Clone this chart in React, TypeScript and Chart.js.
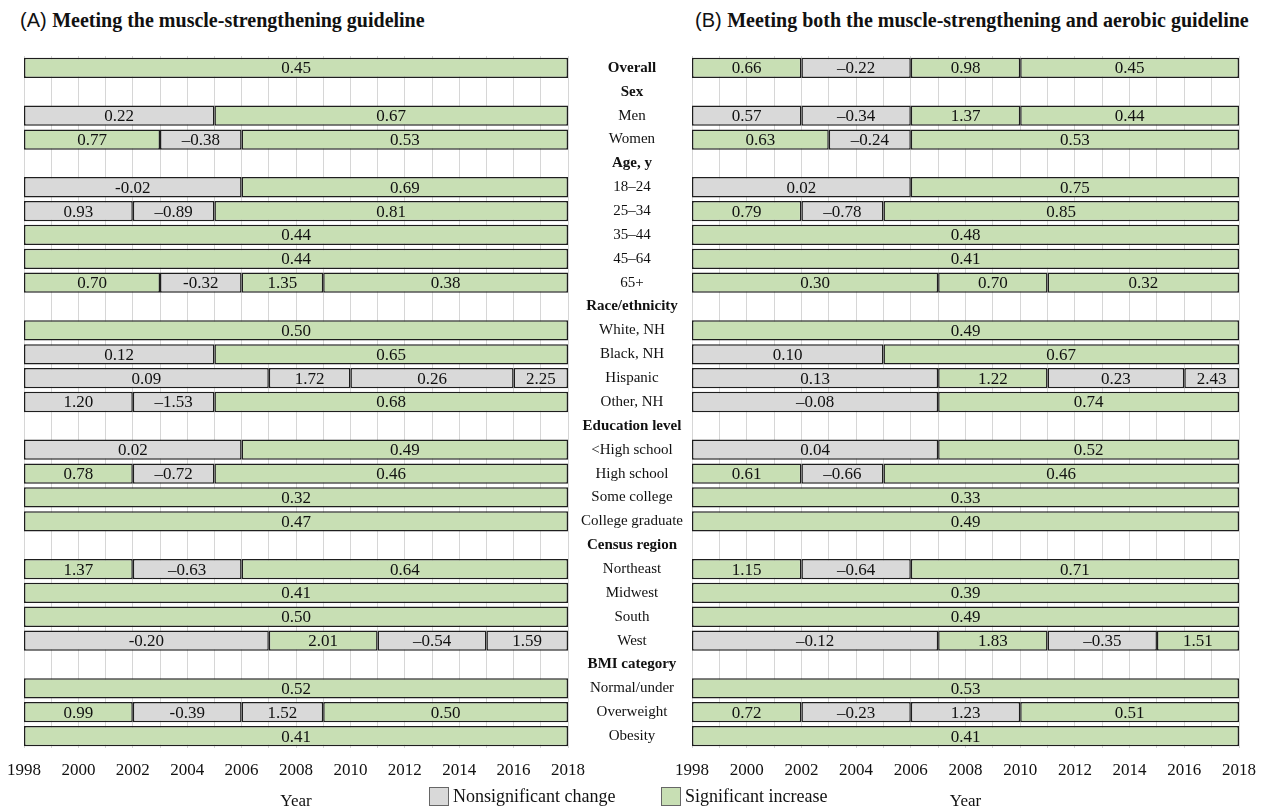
import React, { useEffect, useRef } from "react";
import { Chart, registerables } from "chart.js";

Chart.register(...registerables);

// ---------- data ----------
const rowLabels = [
  "Overall", "Sex", "Men", "Women", "Age, y", "18–24", "25–34", "35–44", "45–64", "65+",
  "Race/ethnicity", "White, NH", "Black, NH", "Hispanic", "Other, NH",
  "Education level", "<High school", "High school", "Some college", "College graduate",
  "Census region", "Northeast", "Midwest", "South", "West",
  "BMI category", "Normal/under", "Overweight", "Obesity",
];
const boldLabels = ["Overall", "Sex", "Age, y", "Race/ethnicity", "Education level", "Census region", "BMI category"];

const yearMin = 1998;
const yearMax = 2018;

// Panel A: joinpoint years per row, APC labels, significance (1 = significant increase)
const breaksA: number[][] = [
  [1998, 2018], [], [1998, 2005, 2018], [1998, 2003, 2006, 2018], [],
  [1998, 2006, 2018], [1998, 2002, 2005, 2018], [1998, 2018], [1998, 2018], [1998, 2003, 2006, 2009, 2018], [],
  [1998, 2018], [1998, 2005, 2018], [1998, 2007, 2010, 2016, 2018], [1998, 2002, 2005, 2018], [],
  [1998, 2006, 2018], [1998, 2002, 2005, 2018], [1998, 2018], [1998, 2018], [],
  [1998, 2002, 2006, 2018], [1998, 2018], [1998, 2018], [1998, 2007, 2011, 2015, 2018], [],
  [1998, 2018], [1998, 2002, 2006, 2009, 2018], [1998, 2018],
];
const apcA: string[][] = [
  ["0.45"], [], ["0.22", "0.67"], ["0.77", "–0.38", "0.53"], [],
  ["-0.02", "0.69"], ["0.93", "–0.89", "0.81"], ["0.44"], ["0.44"], ["0.70", "-0.32", "1.35", "0.38"], [],
  ["0.50"], ["0.12", "0.65"], ["0.09", "1.72", "0.26", "2.25"], ["1.20", "–1.53", "0.68"], [],
  ["0.02", "0.49"], ["0.78", "–0.72", "0.46"], ["0.32"], ["0.47"], [],
  ["1.37", "–0.63", "0.64"], ["0.41"], ["0.50"], ["-0.20", "2.01", "–0.54", "1.59"], [],
  ["0.52"], ["0.99", "-0.39", "1.52", "0.50"], ["0.41"],
];
const sigA: number[][] = [
  [1], [], [0, 1], [1, 0, 1], [],
  [0, 1], [0, 0, 1], [1], [1], [1, 0, 1, 1], [],
  [1], [0, 1], [0, 0, 0, 0], [0, 0, 1], [],
  [0, 1], [1, 0, 1], [1], [1], [],
  [1, 0, 1], [1], [1], [0, 1, 0, 0], [],
  [1], [1, 0, 0, 1], [1],
];

// Panel B
const breaksB: number[][] = [
  [1998, 2002, 2006, 2010, 2018], [], [1998, 2002, 2006, 2010, 2018], [1998, 2003, 2006, 2018], [],
  [1998, 2006, 2018], [1998, 2002, 2005, 2018], [1998, 2018], [1998, 2018], [1998, 2007, 2011, 2018], [],
  [1998, 2018], [1998, 2005, 2018], [1998, 2007, 2011, 2016, 2018], [1998, 2007, 2018], [],
  [1998, 2007, 2018], [1998, 2002, 2005, 2018], [1998, 2018], [1998, 2018], [],
  [1998, 2002, 2006, 2018], [1998, 2018], [1998, 2018], [1998, 2007, 2011, 2015, 2018], [],
  [1998, 2018], [1998, 2002, 2006, 2010, 2018], [1998, 2018],
];
const apcB: string[][] = [
  ["0.66", "–0.22", "0.98", "0.45"], [], ["0.57", "–0.34", "1.37", "0.44"], ["0.63", "–0.24", "0.53"], [],
  ["0.02", "0.75"], ["0.79", "–0.78", "0.85"], ["0.48"], ["0.41"], ["0.30", "0.70", "0.32"], [],
  ["0.49"], ["0.10", "0.67"], ["0.13", "1.22", "0.23", "2.43"], ["–0.08", "0.74"], [],
  ["0.04", "0.52"], ["0.61", "–0.66", "0.46"], ["0.33"], ["0.49"], [],
  ["1.15", "–0.64", "0.71"], ["0.39"], ["0.49"], ["–0.12", "1.83", "–0.35", "1.51"], [],
  ["0.53"], ["0.72", "–0.23", "1.23", "0.51"], ["0.41"],
];
const sigB: number[][] = [
  [1, 0, 1, 1], [], [0, 0, 1, 1], [1, 0, 1], [],
  [0, 1], [1, 0, 1], [1], [1], [1, 1, 1], [],
  [1], [0, 1], [0, 1, 0, 0], [0, 1], [],
  [0, 1], [1, 0, 1], [1], [1], [],
  [1, 0, 1], [1], [1], [0, 1, 0, 1], [],
  [1], [1, 0, 0, 1], [1],
];

const legendLabels = ["Nonsignificant change", "Significant increase"];
const titleA = ["(A)", "Meeting the muscle-strengthening guideline"];
const titleB = ["(B)", "Meeting both the muscle-strengthening and aerobic guideline"];
const axisTitle = "Year";

// ---------- styles ----------
const GREEN = "#c8dfb4";
const GRAY = "#d9d9d9";
const EDGE = "#1e1e1e";
const SERIF = '"Liberation Serif", "Times New Roman", serif';
const SANS = '"Liberation Sans", Arial, sans-serif';

function buildDatasets(breaks: number[][], apc: string[][], sig: number[][]) {
  const maxSeg = Math.max(...breaks.map((b) => Math.max(0, b.length - 1)));
  const out: any[] = [];
  for (let k = 0; k < maxSeg; k++) {
    out.push({
      label: "seg" + k,
      data: breaks.map((b) => (b.length - 1 > k ? [b[k], b[k + 1]] : null)),
      segText: apc.map((a) => a[k] ?? ""),
      backgroundColor: sig.map((s) => (s[k] ? GREEN : GRAY)),
      borderColor: EDGE,
      borderWidth: 1.5,
      borderSkipped: false,
      grouped: false,
      barPercentage: 0.85,
      categoryPercentage: 1,
    });
  }
  return out;
}

const barTextPlugin = {
  id: "barText",
  afterDatasetsDraw(chart: any) {
    const ctx = chart.ctx;
    ctx.save();
    ctx.font = `17px ${SERIF}`;
    ctx.fillStyle = "#111";
    ctx.textAlign = "center";
    ctx.textBaseline = "middle";
    chart.data.datasets.forEach((ds: any, di: number) => {
      const meta = chart.getDatasetMeta(di);
      meta.data.forEach((el: any, i: number) => {
        const txt = ds.segText[i];
        if (!txt || ds.data[i] == null) return;
        const p = el.getProps(["x", "base", "y"], true);
        ctx.fillText(txt, (p.x + p.base) / 2, p.y + 1);
      });
    });
    ctx.restore();
  },
};

function makeConfig(breaks: number[][], apc: string[][], sig: number[][], showY: boolean, padLeft: number, padRight: number): any {
  return {
    type: "bar",
    data: { labels: rowLabels, datasets: buildDatasets(breaks, apc, sig) },
    plugins: [barTextPlugin],
    options: {
      indexAxis: "y",
      animation: false,
      responsive: false,
      maintainAspectRatio: false,
      layout: { padding: { left: padLeft, right: padRight, top: 56, bottom: 0 } },
      plugins: { legend: { display: false }, tooltip: { enabled: false }, title: { display: false } },
      scales: {
        x: {
          type: "linear",
          min: yearMin,
          max: yearMax,
          ticks: {
            stepSize: 1,
            autoSkip: false,
            maxRotation: 0,
            padding: 12,
            color: "#111",
            font: { family: SERIF, size: 17 },
            callback: (v: any) => (Number(v) % 2 === 0 ? String(v) : ""),
          },
          grid: { color: "#d6d6d6", lineWidth: 1, drawTicks: false },
          border: { display: false },
          title: {
            display: true,
            text: axisTitle,
            color: "#111",
            font: { family: SERIF, size: 17 },
            padding: { top: 0, bottom: 0 },
          },
          afterFit: (s: any) => {
            s.height = 64;
          },
        },
        y: {
          type: "category",
          display: showY,
          position: "left",
          grid: { display: false },
          border: { display: false },
          ticks: {
            color: "#111",
            crossAlign: "center",
            padding: 1,
            autoSkip: false,
            font: (c: any) => ({
              family: SERIF,
              size: 15,
              weight: boldLabels.includes(rowLabels[c.index]) ? "bold" : "normal",
            }),
          },
          afterFit: (s: any) => {
            s.width = showY ? 120 : 0;
          },
        },
      },
    },
  };
}

function ChartCanvas(props: { left: number; width: number; config: () => any }) {
  const ref = useRef<HTMLCanvasElement | null>(null);
  useEffect(() => {
    if (!ref.current) return;
    const chart = new Chart(ref.current, props.config());
    return () => chart.destroy();
  }, []);
  return (
    <canvas
      ref={ref}
      width={props.width}
      height={812}
      style={{ position: "absolute", left: props.left, top: 0, width: props.width, height: 812 }}
    />
  );
}

function Title(props: { left: number; parts: string[] }) {
  return (
    <div
      style={{
        position: "absolute",
        left: props.left,
        top: 8,
        lineHeight: "24px",
        whiteSpace: "nowrap",
        color: "#111",
      }}
    >
      <span style={{ fontFamily: SANS, fontSize: 20 }}>{props.parts[0]} </span>
      <span style={{ fontFamily: SERIF, fontSize: 20, fontWeight: "bold" }}>{props.parts[1]}</span>
    </div>
  );
}

function LegendItem(props: { left: number; color: string; text: string }) {
  return (
    <div
      style={{
        position: "absolute",
        left: props.left,
        top: 786,
        height: 20,
        display: "flex",
        alignItems: "center",
        whiteSpace: "nowrap",
        fontFamily: SERIF,
        fontSize: 18,
        color: "#111",
      }}
    >
      <span
        style={{
          display: "inline-block",
          width: 18,
          height: 17,
          background: props.color,
          border: "1px solid #666",
          marginRight: 4,
        }}
      />
      <span>{props.text}</span>
    </div>
  );
}

export default function App() {
  return (
    <div
      style={{
        position: "absolute",
        left: 0,
        top: 0,
        width: 1270,
        height: 812,
        overflow: "hidden",
        background: "#fff",
      }}
    >
      <Title left={20} parts={titleA} />
      <Title left={695} parts={titleB} />
      <ChartCanvas left={-5} width={605} config={() => makeConfig(breaksA, apcA, sigA, false, 0, 32)} />
      <ChartCanvas left={572} width={698} config={() => makeConfig(breaksB, apcB, sigB, true, 0, 31)} />
      <LegendItem left={429} color={GRAY} text={legendLabels[0]} />
      <LegendItem left={661} color={GREEN} text={legendLabels[1]} />
    </div>
  );
}
